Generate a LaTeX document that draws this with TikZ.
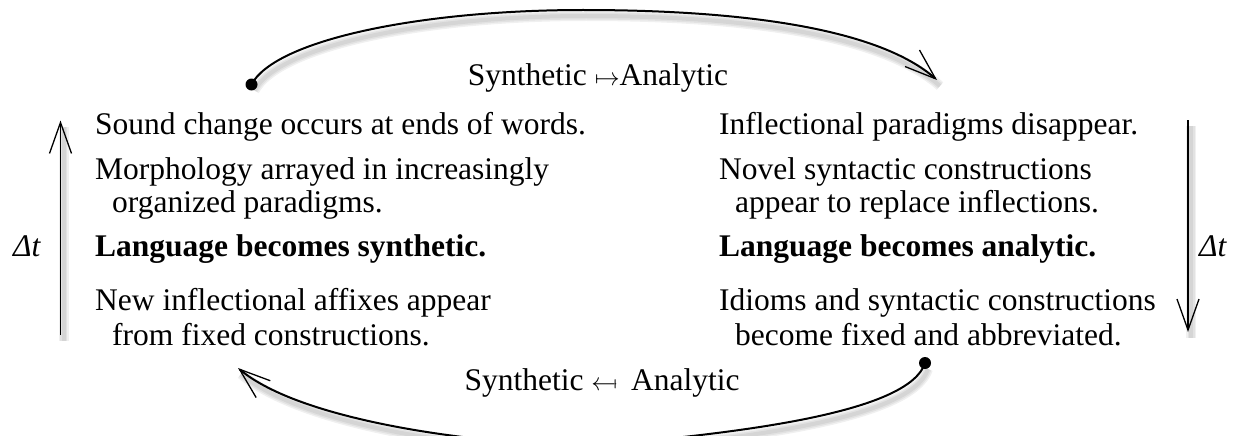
\documentclass[tikz,border=0pt]{standalone}
\usepackage{fontspec}
\setmainfont{Liberation Serif}
\usetikzlibrary{arrows.meta}
\begin{document}
\begin{tikzpicture}[x=1pt,y=-1pt,
  txt/.style={anchor=base west,inner sep=0pt,font=\fontsize{31.5}{36}\selectfont},
  bd/.style={txt,font=\fontsize{31.5}{36}\selectfont\bfseries},
  lbl/.style={txt,anchor=base},
  curve/.style={line width=2pt},
  vline/.style={line width=1.3pt},
  tip/.style={-{Straight Barb[length=31pt,width=22pt,line width=1.3pt]}},
  shd/.style={draw=black,opacity=0.06,line width=#1},
]
\useasboundingbox (0,0) rectangle (1239,436);

% left column
\node[txt] (l1) at (95,134) {Sound change occurs at ends of words.};
\node[txt] (l2) at (95,179) {Morphology arrayed in increasingly};
\node[txt] (l3) at (112,212) {organized paradigms.};
\node[bd]  (l4) at (95,256) {Language becomes synthetic.};
\node[txt] (l5) at (95,310) {New inflectional affixes appear};
\node[txt] (l6) at (112,345) {from fixed constructions.};

% right column
\node[txt] (r1) at (719,134) {Inflectional paradigms disappear.};
\node[txt] (r2) at (719,179) {Novel syntactic constructions};
\node[txt] (r3) at (735,212) {appear to replace inflections.};
\node[bd]  (r4) at (719,256) {Language becomes analytic.};
\node[txt] (r5) at (719,310) {Idioms and syntactic constructions};
\node[txt] (r6) at (735,345) {become fixed and abbreviated.};

% delta t labels
\node[txt] (dtl) at (13,256) {\textit{Δt}};
\node[txt] (dtr) at (1199,256) {\textit{Δt}};

% cycle labels
\node[lbl] (top) at (598,85) {Synthetic $\mapsto$Analytic};
\node[lbl] (bot) at (602,390) {Synthetic $\leftarrow\mkern-2mu\mapstochar\mkern7mu$ Analytic};

% coordinates
\coordinate (lb) at (60.5,335);
\coordinate (lt) at (60.5,120.5);
\coordinate (rt) at (1188,120);
\coordinate (rb) at (1188,332);
\coordinate (d1) at (251.5,84.5);
\coordinate (e1) at (937,80);
\coordinate (d2) at (925,363);
\coordinate (e2) at (238,368);

% shadows
\begin{scope}[transform canvas={shift={(3,6)}}]
  \foreach \w in {10,7,4}{
    \draw[shd=\w pt] (d1) .. controls (275,40) and (420,10) .. (583,10) .. controls (750,10) and (880,30) .. (e1);
    \draw[shd=\w pt] (d2) .. controls (910,410) and (760,432) .. (588,446) .. controls (470,444) and (300,420) .. (e2);
    \draw[shd=\w pt] (lb) -- (lt);
    \draw[shd=\w pt] (rt) -- (rb);
  }
\end{scope}

% vertical arrows
\draw[vline,tip] (lb) -- (lt);
\draw[vline,tip] (rt) -- (rb);

% cycle curves
\fill (d1) circle (6);
\draw[curve,tip] (d1) .. controls (275,40) and (420,10) .. (583,10) .. controls (750,10) and (880,30) .. (e1);
\fill (d2) circle (6);
\draw[curve,tip] (d2) .. controls (910,410) and (760,432) .. (588,446) .. controls (470,444) and (300,420) .. (e2);
\end{tikzpicture}
\end{document}
